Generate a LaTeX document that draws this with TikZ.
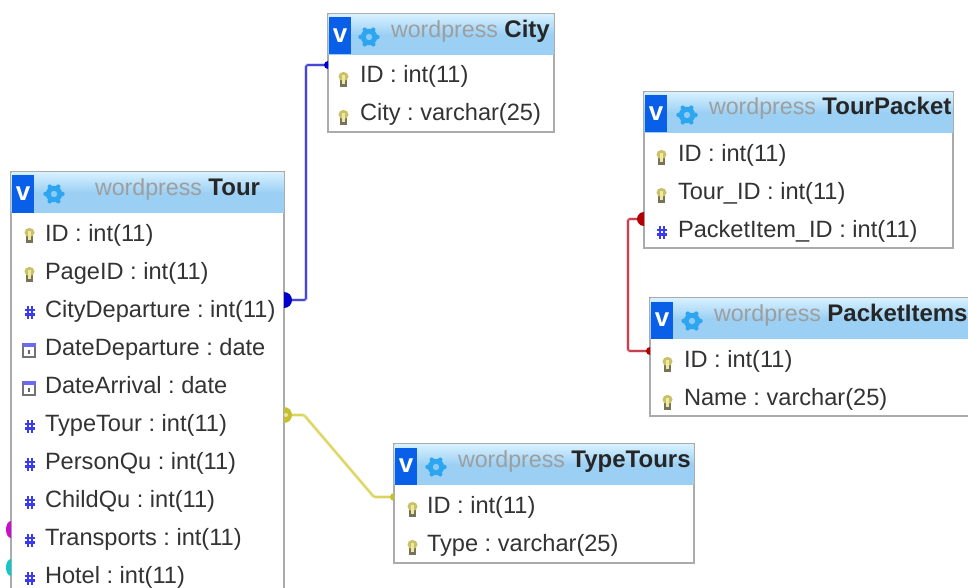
\documentclass[tikz,border=0pt]{standalone}
\usepackage{fontspec}
\setmainfont{Liberation Sans}
\usetikzlibrary{calc}
\definecolor{boxline}{HTML}{ABABAB}
\definecolor{headlo}{HTML}{9BD0F4}
\definecolor{headhi}{HTML}{D6F0FF}
\definecolor{vblue}{HTML}{0A5FE8}
\definecolor{gearblue}{HTML}{2EA5F0}
\definecolor{gearhole}{HTML}{8CCBF5}
\definecolor{rowtext}{HTML}{333333}
\definecolor{keyhead}{HTML}{C9C06A}
\definecolor{keystem}{HTML}{77735A}
\definecolor{keylight}{HTML}{EFE9A0}
\definecolor{hashblue}{HTML}{3A3AF0}
\definecolor{relblue}{HTML}{4646D8}
\definecolor{relred}{HTML}{C4434F}
\definecolor{relyellow}{HTML}{DAD55A}
\definecolor{stubmagenta}{HTML}{C810C8}
\definecolor{stubcyan}{HTML}{10C8C8}
\tikzset{
  x=1pt,y=-1pt,
  tablebox/.style={draw=boxline,line width=1.4pt,fill=white,anchor=north west,inner sep=0,outer sep=0},
  headbox/.style={anchor=north west,inner sep=0,outer sep=0,top color=headhi,bottom color=headlo,middle color=headlo,minimum height=40pt},
  vbox/.style={fill=vblue,anchor=north west,inner sep=0,outer sep=0,minimum width=22pt,minimum height=37pt,text=white,font=\fontsize{26}{26}\selectfont\bfseries},
  rowlabel/.style={anchor=base west,inner sep=0,outer sep=0,yshift=-1pt,text=rowtext,font=\fontsize{23.6}{24}\selectfont\frenchspacing},
  titlelabel/.style={anchor=base west,inner sep=0,outer sep=0,text=black!85,font=\fontsize{23.2}{24}\selectfont\frenchspacing},
  rel/.style={line width=2pt,rounded corners=1.5pt,line join=round},
}
\newcommand{\wpname}{\textcolor{black!38}{wordpress}}
\newcommand{\tname}[1]{{\fontsize{24}{24}\selectfont\bfseries #1}}
% gear icon at x,y
\newcommand{\geardraw}[2]{%
  \foreach \a in {0,60,...,300}{\fill[gearblue] ($(#1,#2)+(\a:8.4)$) circle (2.3);}
  \fill[gearblue] (#1,#2) circle (8.2);
  \fill[gearhole] (#1,#2) circle (3.2);
}
% key icon
\newcommand{\keydraw}[2]{%
  \fill[keystem] (#1-2.8,#2-3) rectangle (#1+3.8,#2+7);
  \fill[keyhead] (#1+0.5,#2-3.5) ellipse (5 and 4.6);
  \fill[keylight] (#1-0.8,#2-5) rectangle (#1+1.8,#2+4);
}
% number icon
\newcommand{\hashdraw}[2]{%
  \draw[hashblue,line width=2.6pt] (#1-1,#2-6)--(#1-1,#2+6.5) (#1+3,#2-6)--(#1+3,#2+6.5)
    (#1-4,#2-2)--(#1+6,#2-2) (#1-4,#2+2.4)--(#1+6,#2+2.4);
}
% date icon
\newcommand{\datedraw}[2]{%
  \draw[black!55,line width=1.2pt] (#1-5,#2-6) rectangle (#1+7,#2+7);
  \fill[hashblue!75] (#1-5.5,#2-7) rectangle (#1+7.5,#2-3);
  \fill[black!60] (#1,#2-0.5) rectangle (#1+2,#2+4);
}
\begin{document}
\begin{tikzpicture}
\useasboundingbox (0,0) rectangle (968,588);
\clip (0,0) rectangle (968,588);
\fill[white] (0,0) rectangle (968,588);

% ---------- tables
\node[tablebox,minimum width=273pt,minimum height=440pt] (tour) at (11,172) {};
\node[headbox,minimum width=272pt] (tourhead) at (11.7,172.7) {};
\node[vbox] (tourv) at (12,175.5) {v};
\geardraw{54}{194}
\node[titlelabel] (tourtitle) at (95,195) {\wpname{} \tname{Tour}};

\node[tablebox,minimum width=226pt,minimum height=118pt] (city) at (328,14) {};
\node[headbox,minimum width=225pt] (cityhead) at (328.7,14.7) {};
\node[vbox] (cityv) at (329,17.5) {v};
\geardraw{369}{37}
\node[titlelabel] (citytitle) at (391,37.5) {\wpname{} \tname{City}};

\node[tablebox,minimum width=309pt,minimum height=156pt] (packet) at (644,92) {};
\node[headbox,minimum width=308pt] (packethead) at (644.7,92.7) {};
\node[vbox] (packetv) at (645,95.5) {v};
\geardraw{687}{115}
\node[titlelabel] (packettitle) at (709,115) {\wpname{} \tname{TourPacket}};

\node[tablebox,minimum width=330pt,minimum height=118pt] (items) at (650,298) {};
\node[headbox,minimum width=329pt] (itemshead) at (650.7,298.7) {};
\node[vbox] (itemsv) at (651,301.5) {v};
\geardraw{692}{321}
\node[titlelabel] (itemstitle) at (714,321) {\wpname{} \tname{PacketItems}};

\node[tablebox,minimum width=300pt,minimum height=119pt] (types) at (394,444) {};
\node[headbox,minimum width=299pt] (typeshead) at (394.7,444.7) {};
\node[vbox] (typesv) at (395,447.5) {v};
\geardraw{436}{467}
\node[titlelabel] (typestitle) at (458,467) {\wpname{} \tname{TypeTours}};

% ---------- rows
\keydraw{29}{236}  \node[rowlabel] (t1) at (45,240) {ID : int(11)};
\keydraw{29}{275}  \node[rowlabel] (t2) at (45,278) {PageID : int(11)};
\hashdraw{29}{312} \node[rowlabel] (t3) at (45,316) {CityDeparture : int(11)};
\datedraw{28}{350} \node[rowlabel] (t4) at (45,354) {DateDeparture : date};
\datedraw{28}{388} \node[rowlabel] (t5) at (45,392) {DateArrival : date};
\hashdraw{29}{426} \node[rowlabel] (t6) at (45,430) {TypeTour : int(11)};
\hashdraw{29}{464} \node[rowlabel] (t7) at (45,468) {PersonQu : int(11)};
\hashdraw{29}{502} \node[rowlabel] (t8) at (45,506) {ChildQu : int(11)};
\hashdraw{29}{540} \node[rowlabel] (t9) at (45,544) {Transports : int(11)};
\hashdraw{29}{578} \node[rowlabel] (t10) at (45,582) {Hotel : int(11)};

\keydraw{343}{80}  \node[rowlabel] (c1) at (360,82) {ID : int(11)};
\keydraw{343}{118} \node[rowlabel] (c2) at (360,120) {City : varchar(25)};

\keydraw{661}{158}  \node[rowlabel] (p1) at (678,160) {ID : int(11)};
\keydraw{661}{196}  \node[rowlabel] (p2) at (678,198) {Tour\_ID : int(11)};
\hashdraw{661}{232} \node[rowlabel] (p3) at (678,236) {PacketItem\_ID : int(11)};

\keydraw{667}{365} \node[rowlabel] (i1) at (684,366) {ID : int(11)};
\keydraw{667}{403} \node[rowlabel] (i2) at (684,404) {Name : varchar(25)};

\keydraw{412}{510} \node[rowlabel] (y1) at (427,512) {ID : int(11)};
\keydraw{412}{548} \node[rowlabel] (y2) at (427,550) {Type : varchar(25)};

% ---------- connectors
\coordinate (citybend) at (306,65);
\coordinate (tourbend) at (306,300);
\draw[rel,relblue!30,line width=3.4pt] ([yshift=-128pt]tour.north east) -- (tourbend) -- (citybend) -- ([yshift=-51pt]city.north west);
\draw[rel,relblue,line width=1.6pt] ([yshift=-128pt]tour.north east) -- (tourbend) -- (citybend) -- ([yshift=-51pt]city.north west);
\fill[blue!80!black] ([yshift=-120pt]tour.north east) arc[start angle=90,end angle=-90,radius=8pt] -- cycle;
\fill[blue!80!black] ([yshift=-47pt]city.north west) arc[start angle=90,end angle=270,radius=4pt] -- cycle;

\coordinate (packetbend) at (628,219);
\coordinate (itemsbend) at (628,351);
\draw[rel,relred!30,line width=3.4pt] ([yshift=-127pt]packet.north west) -- (packetbend) -- (itemsbend) -- ([yshift=-53pt]items.north west);
\draw[rel,relred,line width=1.6pt] ([yshift=-127pt]packet.north west) -- (packetbend) -- (itemsbend) -- ([yshift=-53pt]items.north west);
\fill[red!70!black] ([yshift=-120pt]packet.north west) arc[start angle=90,end angle=270,radius=7pt] -- cycle;
\fill[red!70!black] ([yshift=-49pt]items.north west) arc[start angle=90,end angle=270,radius=4pt] -- cycle;

\coordinate (yelbendA) at (304,415);
\coordinate (yelbendB) at (374,497);
\draw[rel,relyellow!45,line width=3.4pt] ([yshift=-243pt]tour.north east) -- (yelbendA) -- (yelbendB) -- ([yshift=-53pt]types.north west);
\draw[rel,relyellow,line width=1.6pt] ([yshift=-243pt]tour.north east) -- (yelbendA) -- (yelbendB) -- ([yshift=-53pt]types.north west);
\fill[yellow!75!black] ([yshift=-235pt]tour.north east) arc[start angle=90,end angle=-90,radius=8pt] -- cycle;
\fill[relyellow!60!white] ([yshift=-243pt]tour.north east) ++(2,0) circle (2pt);
\fill[yellow!75!black] ([yshift=-49pt]types.north west) arc[start angle=90,end angle=270,radius=4pt] -- cycle;

% ---------- stubs of connectors that leave the picture
\coordinate (stubm) at (11,529.5);
\coordinate (stubc) at (11,567.5);
\fill[stubmagenta] ($(stubm)+(0,-8.5)$) arc[start angle=90,end angle=270,x radius=5pt,y radius=8.5pt] -- cycle;
\fill[stubcyan] ($(stubc)+(0,-8.5)$) arc[start angle=90,end angle=270,x radius=5pt,y radius=8.5pt] -- cycle;
\end{tikzpicture}
\end{document}
